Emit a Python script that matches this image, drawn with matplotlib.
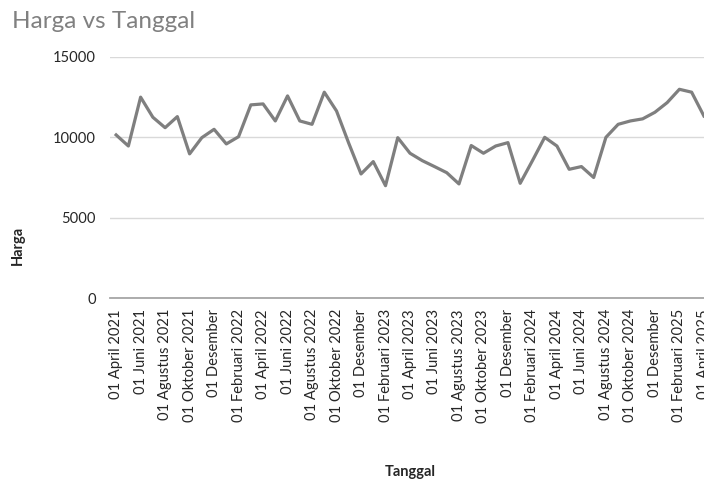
import matplotlib.pyplot as plt

# monthly price data, April 2021 .. April 2025
bulan = ["Januari", "Februari", "Maret", "April", "Mei", "Juni", "Juli",
         "Agustus", "September", "Oktober", "November", "Desember"]

harga = [10150, 9460, 12500, 11250, 10600, 11290, 8970, 9980, 10500,
         9590, 10040, 12020, 12080, 11020, 12580, 11020, 10810, 12810, 11640,
         9630, 7720, 8490, 6990, 9980, 9010, 8550, 8180, 7800, 7100,
         9490, 9010, 9460, 9670, 7140, 8550, 10000, 9460, 8010, 8180,
         7500, 10000, 10810, 11020, 11150, 11560, 12160, 12990, 12810, 11330]

tanggal = []
for i in range(len(harga)):
    m = (3 + i) % 12
    y = 2021 + (3 + i) // 12
    tanggal.append("01 %s %d" % (bulan[m], y))

# Excel cuts the December labels short
tick_labels = []
for t in tanggal[::2]:
    if "Desember" in t:
        tick_labels.append("01 Desember")
    else:
        tick_labels.append(t)

plt.rcParams['font.family'] = ['Lato', 'DejaVu Sans']

fig = plt.figure(figsize=(7.04, 4.79), dpi=100)
ax = fig.add_axes([110 / 704, 181 / 479, 600 / 704, 241 / 479])

x = list(range(len(harga)))
ax.plot(x, harga, color='#7f7f7f', linewidth=2.3, solid_joinstyle='round')

ax.set_xlim(-0.5, len(harga) - 0.5)
ax.set_ylim(0, 15000)
ax.set_yticks([0, 5000, 10000, 15000])
ax.set_xticks(x[::2])
ax.set_xticklabels(tick_labels, rotation=90, va='top', ha='center')
ax.tick_params(axis='x', length=0, pad=8, labelsize=10.6, labelcolor='#262626')
ax.tick_params(axis='y', length=0, pad=10, labelsize=10.6, labelcolor='#262626')

ax.grid(axis='y', color='#d9d9d9', linewidth=1)
ax.set_axisbelow(True)
for s in ['top', 'right', 'left']:
    ax.spines[s].set_visible(False)
ax.spines['bottom'].set_color('#a6a6a6')
ax.spines['bottom'].set_linewidth(1.3)

fig.text(12 / 704, 1 - 22 / 479, "Harga vs Tanggal", fontsize=17.5, color='#808080',
         va='center', ha='left')
fig.text(18 / 704, 1 - 245 / 479, "Harga", rotation=90, fontsize=10.5, fontweight='bold',
         color='#262626', va='center', ha='center')
fig.text(410 / 704, 1 - 472 / 479, "Tanggal", fontsize=10.5, fontweight='bold',
         color='#262626', va='center', ha='center')

fig.savefig("out.png", dpi=100)
